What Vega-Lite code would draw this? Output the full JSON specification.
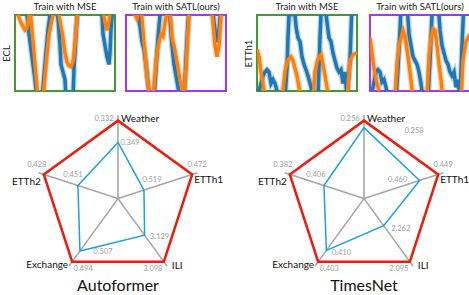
{
  "$schema": "https://vega.github.io/schema/vega-lite/v6.json",
  "padding": 0,
  "background": "white",
  "config": {"view": {"stroke": null}, "font": "Lato", "title": {"font": "Lato"}},
  "datasets": {
    "series": [
      {"ds":"ECL","method":"MSE","series":"truth","t":0,"v":120},{"ds":"ECL","method":"MSE","series":"truth","t":10,"v":115},{"ds":"ECL","method":"MSE","series":"truth","t":12,"v":100},{"ds":"ECL","method":"MSE","series":"truth","t":14,"v":75},{"ds":"ECL","method":"MSE","series":"truth","t":16,"v":55},{"ds":"ECL","method":"MSE","series":"truth","t":18,"v":35},{"ds":"ECL","method":"MSE","series":"truth","t":20,"v":15},{"ds":"ECL","method":"MSE","series":"truth","t":22,"v":-10},{"ds":"ECL","method":"MSE","series":"truth","t":27,"v":-10},{"ds":"ECL","method":"MSE","series":"truth","t":29,"v":20},{"ds":"ECL","method":"MSE","series":"truth","t":31,"v":50},{"ds":"ECL","method":"MSE","series":"truth","t":33,"v":80},{"ds":"ECL","method":"MSE","series":"truth","t":35,"v":100},{"ds":"ECL","method":"MSE","series":"truth","t":37,"v":112},{"ds":"ECL","method":"MSE","series":"truth","t":41,"v":112},{"ds":"ECL","method":"MSE","series":"truth","t":43,"v":95},{"ds":"ECL","method":"MSE","series":"truth","t":45,"v":60},{"ds":"ECL","method":"MSE","series":"truth","t":46,"v":35},{"ds":"ECL","method":"MSE","series":"truth","t":48,"v":25},{"ds":"ECL","method":"MSE","series":"truth","t":50,"v":15},{"ds":"ECL","method":"MSE","series":"truth","t":51,"v":-10},{"ds":"ECL","method":"MSE","series":"truth","t":58,"v":-10},{"ds":"ECL","method":"MSE","series":"truth","t":59,"v":30},{"ds":"ECL","method":"MSE","series":"truth","t":61,"v":75},{"ds":"ECL","method":"MSE","series":"truth","t":63,"v":115},{"ds":"ECL","method":"MSE","series":"truth","t":85,"v":118},{"ds":"ECL","method":"MSE","series":"truth","t":87,"v":100},{"ds":"ECL","method":"MSE","series":"truth","t":88,"v":75},{"ds":"ECL","method":"MSE","series":"truth","t":90,"v":60},{"ds":"ECL","method":"MSE","series":"truth","t":92,"v":45},{"ds":"ECL","method":"MSE","series":"truth","t":94,"v":35},{"ds":"ECL","method":"MSE","series":"truth","t":95,"v":50},{"ds":"ECL","method":"MSE","series":"truth","t":96,"v":80},{"ds":"ECL","method":"MSE","series":"truth","t":98,"v":115},{"ds":"ECL","method":"MSE","series":"truth","t":100,"v":120},
      {"ds":"ECL","method":"MSE","series":"pred","t":0,"v":115},{"ds":"ECL","method":"MSE","series":"pred","t":3,"v":100},{"ds":"ECL","method":"MSE","series":"pred","t":6,"v":90},{"ds":"ECL","method":"MSE","series":"pred","t":10,"v":80},{"ds":"ECL","method":"MSE","series":"pred","t":12,"v":82},{"ds":"ECL","method":"MSE","series":"pred","t":14,"v":100},{"ds":"ECL","method":"MSE","series":"pred","t":15,"v":108},{"ds":"ECL","method":"MSE","series":"pred","t":17,"v":80},{"ds":"ECL","method":"MSE","series":"pred","t":19,"v":50},{"ds":"ECL","method":"MSE","series":"pred","t":21,"v":20},{"ds":"ECL","method":"MSE","series":"pred","t":23,"v":-10},{"ds":"ECL","method":"MSE","series":"pred","t":28,"v":-10},{"ds":"ECL","method":"MSE","series":"pred","t":30,"v":20},{"ds":"ECL","method":"MSE","series":"pred","t":32,"v":50},{"ds":"ECL","method":"MSE","series":"pred","t":34,"v":75},{"ds":"ECL","method":"MSE","series":"pred","t":37,"v":95},{"ds":"ECL","method":"MSE","series":"pred","t":39,"v":105},{"ds":"ECL","method":"MSE","series":"pred","t":42,"v":110},{"ds":"ECL","method":"MSE","series":"pred","t":44,"v":100},{"ds":"ECL","method":"MSE","series":"pred","t":46,"v":85},{"ds":"ECL","method":"MSE","series":"pred","t":48,"v":70},{"ds":"ECL","method":"MSE","series":"pred","t":50,"v":50},{"ds":"ECL","method":"MSE","series":"pred","t":52,"v":38},{"ds":"ECL","method":"MSE","series":"pred","t":54,"v":33},{"ds":"ECL","method":"MSE","series":"pred","t":56,"v":32},{"ds":"ECL","method":"MSE","series":"pred","t":58,"v":38},{"ds":"ECL","method":"MSE","series":"pred","t":60,"v":60},{"ds":"ECL","method":"MSE","series":"pred","t":62,"v":95},{"ds":"ECL","method":"MSE","series":"pred","t":64,"v":115},{"ds":"ECL","method":"MSE","series":"pred","t":86,"v":118},{"ds":"ECL","method":"MSE","series":"pred","t":88,"v":105},{"ds":"ECL","method":"MSE","series":"pred","t":90,"v":90},{"ds":"ECL","method":"MSE","series":"pred","t":92,"v":80},{"ds":"ECL","method":"MSE","series":"pred","t":94,"v":92},{"ds":"ECL","method":"MSE","series":"pred","t":96,"v":110},{"ds":"ECL","method":"MSE","series":"pred","t":100,"v":120},
      {"ds":"ECL","method":"SATL","series":"truth","t":0,"v":120},{"ds":"ECL","method":"SATL","series":"truth","t":12,"v":115},{"ds":"ECL","method":"SATL","series":"truth","t":14,"v":85},{"ds":"ECL","method":"SATL","series":"truth","t":16,"v":65},{"ds":"ECL","method":"SATL","series":"truth","t":18,"v":55},{"ds":"ECL","method":"SATL","series":"truth","t":20,"v":35},{"ds":"ECL","method":"SATL","series":"truth","t":22,"v":10},{"ds":"ECL","method":"SATL","series":"truth","t":24,"v":-10},{"ds":"ECL","method":"SATL","series":"truth","t":28,"v":-10},{"ds":"ECL","method":"SATL","series":"truth","t":30,"v":30},{"ds":"ECL","method":"SATL","series":"truth","t":32,"v":70},{"ds":"ECL","method":"SATL","series":"truth","t":34,"v":100},{"ds":"ECL","method":"SATL","series":"truth","t":36,"v":115},{"ds":"ECL","method":"SATL","series":"truth","t":40,"v":115},{"ds":"ECL","method":"SATL","series":"truth","t":44,"v":95},{"ds":"ECL","method":"SATL","series":"truth","t":46,"v":60},{"ds":"ECL","method":"SATL","series":"truth","t":48,"v":35},{"ds":"ECL","method":"SATL","series":"truth","t":50,"v":20},{"ds":"ECL","method":"SATL","series":"truth","t":52,"v":5},{"ds":"ECL","method":"SATL","series":"truth","t":54,"v":-10},{"ds":"ECL","method":"SATL","series":"truth","t":58,"v":-10},{"ds":"ECL","method":"SATL","series":"truth","t":60,"v":40},{"ds":"ECL","method":"SATL","series":"truth","t":62,"v":90},{"ds":"ECL","method":"SATL","series":"truth","t":64,"v":118},{"ds":"ECL","method":"SATL","series":"truth","t":86,"v":118},{"ds":"ECL","method":"SATL","series":"truth","t":88,"v":90},{"ds":"ECL","method":"SATL","series":"truth","t":90,"v":72},{"ds":"ECL","method":"SATL","series":"truth","t":92,"v":65},{"ds":"ECL","method":"SATL","series":"truth","t":93,"v":80},{"ds":"ECL","method":"SATL","series":"truth","t":95,"v":110},{"ds":"ECL","method":"SATL","series":"truth","t":100,"v":120},
      {"ds":"ECL","method":"SATL","series":"pred","t":0,"v":120},{"ds":"ECL","method":"SATL","series":"pred","t":8,"v":110},{"ds":"ECL","method":"SATL","series":"pred","t":9,"v":100},{"ds":"ECL","method":"SATL","series":"pred","t":11,"v":95},{"ds":"ECL","method":"SATL","series":"pred","t":13,"v":105},{"ds":"ECL","method":"SATL","series":"pred","t":15,"v":110},{"ds":"ECL","method":"SATL","series":"pred","t":17,"v":80},{"ds":"ECL","method":"SATL","series":"pred","t":19,"v":50},{"ds":"ECL","method":"SATL","series":"pred","t":21,"v":20},{"ds":"ECL","method":"SATL","series":"pred","t":24,"v":-10},{"ds":"ECL","method":"SATL","series":"pred","t":27,"v":-10},{"ds":"ECL","method":"SATL","series":"pred","t":29,"v":20},{"ds":"ECL","method":"SATL","series":"pred","t":31,"v":50},{"ds":"ECL","method":"SATL","series":"pred","t":33,"v":65},{"ds":"ECL","method":"SATL","series":"pred","t":35,"v":75},{"ds":"ECL","method":"SATL","series":"pred","t":37,"v":72},{"ds":"ECL","method":"SATL","series":"pred","t":39,"v":90},{"ds":"ECL","method":"SATL","series":"pred","t":41,"v":105},{"ds":"ECL","method":"SATL","series":"pred","t":43,"v":110},{"ds":"ECL","method":"SATL","series":"pred","t":45,"v":90},{"ds":"ECL","method":"SATL","series":"pred","t":46,"v":70},{"ds":"ECL","method":"SATL","series":"pred","t":48,"v":60},{"ds":"ECL","method":"SATL","series":"pred","t":50,"v":45},{"ds":"ECL","method":"SATL","series":"pred","t":52,"v":30},{"ds":"ECL","method":"SATL","series":"pred","t":54,"v":15},{"ds":"ECL","method":"SATL","series":"pred","t":56,"v":5},{"ds":"ECL","method":"SATL","series":"pred","t":58,"v":-5},{"ds":"ECL","method":"SATL","series":"pred","t":60,"v":30},{"ds":"ECL","method":"SATL","series":"pred","t":62,"v":80},{"ds":"ECL","method":"SATL","series":"pred","t":64,"v":118},{"ds":"ECL","method":"SATL","series":"pred","t":85,"v":118},{"ds":"ECL","method":"SATL","series":"pred","t":87,"v":90},{"ds":"ECL","method":"SATL","series":"pred","t":89,"v":60},{"ds":"ECL","method":"SATL","series":"pred","t":91,"v":45},{"ds":"ECL","method":"SATL","series":"pred","t":93,"v":60},{"ds":"ECL","method":"SATL","series":"pred","t":95,"v":100},{"ds":"ECL","method":"SATL","series":"pred","t":97,"v":118},{"ds":"ECL","method":"SATL","series":"pred","t":100,"v":120},
      {"ds":"ETTh1","method":"MSE","series":"truth","t":0,"v":-10},{"ds":"ETTh1","method":"MSE","series":"truth","t":3,"v":5},{"ds":"ETTh1","method":"MSE","series":"truth","t":6,"v":20},{"ds":"ETTh1","method":"MSE","series":"truth","t":8,"v":25},{"ds":"ETTh1","method":"MSE","series":"truth","t":10,"v":28},{"ds":"ETTh1","method":"MSE","series":"truth","t":12,"v":25},{"ds":"ETTh1","method":"MSE","series":"truth","t":14,"v":10},{"ds":"ETTh1","method":"MSE","series":"truth","t":16,"v":15},{"ds":"ETTh1","method":"MSE","series":"truth","t":18,"v":10},{"ds":"ETTh1","method":"MSE","series":"truth","t":20,"v":0},{"ds":"ETTh1","method":"MSE","series":"truth","t":22,"v":-10},{"ds":"ETTh1","method":"MSE","series":"truth","t":28,"v":-10},{"ds":"ETTh1","method":"MSE","series":"truth","t":30,"v":30},{"ds":"ETTh1","method":"MSE","series":"truth","t":31,"v":70},{"ds":"ETTh1","method":"MSE","series":"truth","t":32,"v":100},{"ds":"ETTh1","method":"MSE","series":"truth","t":33,"v":115},{"ds":"ETTh1","method":"MSE","series":"truth","t":35,"v":105},{"ds":"ETTh1","method":"MSE","series":"truth","t":37,"v":115},{"ds":"ETTh1","method":"MSE","series":"truth","t":39,"v":85},{"ds":"ETTh1","method":"MSE","series":"truth","t":41,"v":70},{"ds":"ETTh1","method":"MSE","series":"truth","t":43,"v":65},{"ds":"ETTh1","method":"MSE","series":"truth","t":45,"v":45},{"ds":"ETTh1","method":"MSE","series":"truth","t":47,"v":35},{"ds":"ETTh1","method":"MSE","series":"truth","t":49,"v":28},{"ds":"ETTh1","method":"MSE","series":"truth","t":51,"v":20},{"ds":"ETTh1","method":"MSE","series":"truth","t":53,"v":10},{"ds":"ETTh1","method":"MSE","series":"truth","t":55,"v":0},{"ds":"ETTh1","method":"MSE","series":"truth","t":57,"v":-10},{"ds":"ETTh1","method":"MSE","series":"truth","t":61,"v":-10},{"ds":"ETTh1","method":"MSE","series":"truth","t":62,"v":30},{"ds":"ETTh1","method":"MSE","series":"truth","t":63,"v":70},{"ds":"ETTh1","method":"MSE","series":"truth","t":64,"v":100},{"ds":"ETTh1","method":"MSE","series":"truth","t":66,"v":115},{"ds":"ETTh1","method":"MSE","series":"truth","t":68,"v":115},{"ds":"ETTh1","method":"MSE","series":"truth","t":70,"v":90},{"ds":"ETTh1","method":"MSE","series":"truth","t":72,"v":70},{"ds":"ETTh1","method":"MSE","series":"truth","t":74,"v":65},{"ds":"ETTh1","method":"MSE","series":"truth","t":76,"v":50},{"ds":"ETTh1","method":"MSE","series":"truth","t":78,"v":40},{"ds":"ETTh1","method":"MSE","series":"truth","t":80,"v":30},{"ds":"ETTh1","method":"MSE","series":"truth","t":82,"v":25},{"ds":"ETTh1","method":"MSE","series":"truth","t":84,"v":28},{"ds":"ETTh1","method":"MSE","series":"truth","t":86,"v":10},{"ds":"ETTh1","method":"MSE","series":"truth","t":88,"v":25},{"ds":"ETTh1","method":"MSE","series":"truth","t":90,"v":-10},{"ds":"ETTh1","method":"MSE","series":"truth","t":93,"v":40},{"ds":"ETTh1","method":"MSE","series":"truth","t":95,"v":115},{"ds":"ETTh1","method":"MSE","series":"truth","t":100,"v":118},
      {"ds":"ETTh1","method":"MSE","series":"pred","t":0,"v":55},{"ds":"ETTh1","method":"MSE","series":"pred","t":2,"v":45},{"ds":"ETTh1","method":"MSE","series":"pred","t":4,"v":25},{"ds":"ETTh1","method":"MSE","series":"pred","t":6,"v":10},{"ds":"ETTh1","method":"MSE","series":"pred","t":8,"v":-10},{"ds":"ETTh1","method":"MSE","series":"pred","t":25,"v":-10},{"ds":"ETTh1","method":"MSE","series":"pred","t":28,"v":25},{"ds":"ETTh1","method":"MSE","series":"pred","t":30,"v":38},{"ds":"ETTh1","method":"MSE","series":"pred","t":32,"v":43},{"ds":"ETTh1","method":"MSE","series":"pred","t":34,"v":45},{"ds":"ETTh1","method":"MSE","series":"pred","t":36,"v":40},{"ds":"ETTh1","method":"MSE","series":"pred","t":38,"v":30},{"ds":"ETTh1","method":"MSE","series":"pred","t":40,"v":20},{"ds":"ETTh1","method":"MSE","series":"pred","t":42,"v":5},{"ds":"ETTh1","method":"MSE","series":"pred","t":44,"v":-10},{"ds":"ETTh1","method":"MSE","series":"pred","t":56,"v":-10},{"ds":"ETTh1","method":"MSE","series":"pred","t":58,"v":25},{"ds":"ETTh1","method":"MSE","series":"pred","t":60,"v":38},{"ds":"ETTh1","method":"MSE","series":"pred","t":62,"v":45},{"ds":"ETTh1","method":"MSE","series":"pred","t":64,"v":48},{"ds":"ETTh1","method":"MSE","series":"pred","t":66,"v":35},{"ds":"ETTh1","method":"MSE","series":"pred","t":68,"v":20},{"ds":"ETTh1","method":"MSE","series":"pred","t":70,"v":5},{"ds":"ETTh1","method":"MSE","series":"pred","t":72,"v":-10},{"ds":"ETTh1","method":"MSE","series":"pred","t":90,"v":-10},{"ds":"ETTh1","method":"MSE","series":"pred","t":93,"v":40},{"ds":"ETTh1","method":"MSE","series":"pred","t":96,"v":48},{"ds":"ETTh1","method":"MSE","series":"pred","t":100,"v":50},
      {"ds":"ETTh1","method":"SATL","series":"truth","t":0,"v":-10},{"ds":"ETTh1","method":"SATL","series":"truth","t":3,"v":5},{"ds":"ETTh1","method":"SATL","series":"truth","t":6,"v":25},{"ds":"ETTh1","method":"SATL","series":"truth","t":8,"v":28},{"ds":"ETTh1","method":"SATL","series":"truth","t":10,"v":25},{"ds":"ETTh1","method":"SATL","series":"truth","t":12,"v":12},{"ds":"ETTh1","method":"SATL","series":"truth","t":14,"v":15},{"ds":"ETTh1","method":"SATL","series":"truth","t":16,"v":5},{"ds":"ETTh1","method":"SATL","series":"truth","t":18,"v":-10},{"ds":"ETTh1","method":"SATL","series":"truth","t":26,"v":-10},{"ds":"ETTh1","method":"SATL","series":"truth","t":28,"v":30},{"ds":"ETTh1","method":"SATL","series":"truth","t":30,"v":80},{"ds":"ETTh1","method":"SATL","series":"truth","t":31,"v":110},{"ds":"ETTh1","method":"SATL","series":"truth","t":33,"v":118},{"ds":"ETTh1","method":"SATL","series":"truth","t":35,"v":100},{"ds":"ETTh1","method":"SATL","series":"truth","t":37,"v":115},{"ds":"ETTh1","method":"SATL","series":"truth","t":39,"v":75},{"ds":"ETTh1","method":"SATL","series":"truth","t":41,"v":60},{"ds":"ETTh1","method":"SATL","series":"truth","t":43,"v":45},{"ds":"ETTh1","method":"SATL","series":"truth","t":45,"v":40},{"ds":"ETTh1","method":"SATL","series":"truth","t":47,"v":35},{"ds":"ETTh1","method":"SATL","series":"truth","t":49,"v":25},{"ds":"ETTh1","method":"SATL","series":"truth","t":51,"v":10},{"ds":"ETTh1","method":"SATL","series":"truth","t":53,"v":-10},{"ds":"ETTh1","method":"SATL","series":"truth","t":58,"v":-10},{"ds":"ETTh1","method":"SATL","series":"truth","t":60,"v":40},{"ds":"ETTh1","method":"SATL","series":"truth","t":62,"v":100},{"ds":"ETTh1","method":"SATL","series":"truth","t":64,"v":118},{"ds":"ETTh1","method":"SATL","series":"truth","t":66,"v":110},{"ds":"ETTh1","method":"SATL","series":"truth","t":68,"v":118},{"ds":"ETTh1","method":"SATL","series":"truth","t":70,"v":80},{"ds":"ETTh1","method":"SATL","series":"truth","t":72,"v":60},{"ds":"ETTh1","method":"SATL","series":"truth","t":74,"v":50},{"ds":"ETTh1","method":"SATL","series":"truth","t":76,"v":40},{"ds":"ETTh1","method":"SATL","series":"truth","t":78,"v":35},{"ds":"ETTh1","method":"SATL","series":"truth","t":80,"v":25},{"ds":"ETTh1","method":"SATL","series":"truth","t":82,"v":20},{"ds":"ETTh1","method":"SATL","series":"truth","t":84,"v":25},{"ds":"ETTh1","method":"SATL","series":"truth","t":86,"v":5},{"ds":"ETTh1","method":"SATL","series":"truth","t":88,"v":15},{"ds":"ETTh1","method":"SATL","series":"truth","t":90,"v":-10},{"ds":"ETTh1","method":"SATL","series":"truth","t":92,"v":60},{"ds":"ETTh1","method":"SATL","series":"truth","t":94,"v":118},{"ds":"ETTh1","method":"SATL","series":"truth","t":100,"v":118},
      {"ds":"ETTh1","method":"SATL","series":"pred","t":0,"v":70},{"ds":"ETTh1","method":"SATL","series":"pred","t":2,"v":50},{"ds":"ETTh1","method":"SATL","series":"pred","t":4,"v":30},{"ds":"ETTh1","method":"SATL","series":"pred","t":6,"v":15},{"ds":"ETTh1","method":"SATL","series":"pred","t":8,"v":5},{"ds":"ETTh1","method":"SATL","series":"pred","t":10,"v":-10},{"ds":"ETTh1","method":"SATL","series":"pred","t":25,"v":-10},{"ds":"ETTh1","method":"SATL","series":"pred","t":27,"v":35},{"ds":"ETTh1","method":"SATL","series":"pred","t":29,"v":60},{"ds":"ETTh1","method":"SATL","series":"pred","t":31,"v":70},{"ds":"ETTh1","method":"SATL","series":"pred","t":33,"v":80},{"ds":"ETTh1","method":"SATL","series":"pred","t":35,"v":72},{"ds":"ETTh1","method":"SATL","series":"pred","t":37,"v":55},{"ds":"ETTh1","method":"SATL","series":"pred","t":39,"v":35},{"ds":"ETTh1","method":"SATL","series":"pred","t":41,"v":15},{"ds":"ETTh1","method":"SATL","series":"pred","t":43,"v":-10},{"ds":"ETTh1","method":"SATL","series":"pred","t":57,"v":-10},{"ds":"ETTh1","method":"SATL","series":"pred","t":59,"v":45},{"ds":"ETTh1","method":"SATL","series":"pred","t":61,"v":70},{"ds":"ETTh1","method":"SATL","series":"pred","t":63,"v":82},{"ds":"ETTh1","method":"SATL","series":"pred","t":65,"v":80},{"ds":"ETTh1","method":"SATL","series":"pred","t":67,"v":60},{"ds":"ETTh1","method":"SATL","series":"pred","t":69,"v":35},{"ds":"ETTh1","method":"SATL","series":"pred","t":71,"v":15},{"ds":"ETTh1","method":"SATL","series":"pred","t":73,"v":-10},{"ds":"ETTh1","method":"SATL","series":"pred","t":91,"v":-10},{"ds":"ETTh1","method":"SATL","series":"pred","t":93,"v":40},{"ds":"ETTh1","method":"SATL","series":"pred","t":96,"v":65},{"ds":"ETTh1","method":"SATL","series":"pred","t":100,"v":75}
    ],
    "radar": [
      {"model":"Autoformer","axis":"Weather","k":0,"series":"SATL","r":1,"value":0.332},
      {"model":"Autoformer","axis":"ETTh1","k":1,"series":"SATL","r":1,"value":0.472},
      {"model":"Autoformer","axis":"ILI","k":2,"series":"SATL","r":1,"value":3.098},
      {"model":"Autoformer","axis":"Exchange","k":3,"series":"SATL","r":1,"value":0.494},
      {"model":"Autoformer","axis":"ETTh2","k":4,"series":"SATL","r":1,"value":0.428},
      {"model":"Autoformer","axis":"Weather","k":0,"series":"MSE","r":0.72,"value":0.349},
      {"model":"Autoformer","axis":"ETTh1","k":1,"series":"MSE","r":0.35,"value":0.519},
      {"model":"Autoformer","axis":"ILI","k":2,"series":"MSE","r":0.58,"value":3.129},
      {"model":"Autoformer","axis":"Exchange","k":3,"series":"MSE","r":0.83,"value":0.507},
      {"model":"Autoformer","axis":"ETTh2","k":4,"series":"MSE","r":0.54,"value":0.451},
      {"model":"TimesNet","axis":"Weather","k":0,"series":"SATL","r":1,"value":0.256},
      {"model":"TimesNet","axis":"ETTh1","k":1,"series":"SATL","r":1,"value":0.449},
      {"model":"TimesNet","axis":"ILI","k":2,"series":"SATL","r":1,"value":2.095},
      {"model":"TimesNet","axis":"Exchange","k":3,"series":"SATL","r":1,"value":0.403},
      {"model":"TimesNet","axis":"ETTh2","k":4,"series":"SATL","r":1,"value":0.382},
      {"model":"TimesNet","axis":"Weather","k":0,"series":"MSE","r":0.91,"value":0.258},
      {"model":"TimesNet","axis":"ETTh1","k":1,"series":"MSE","r":0.75,"value":0.460},
      {"model":"TimesNet","axis":"ILI","k":2,"series":"MSE","r":0.43,"value":2.262},
      {"model":"TimesNet","axis":"Exchange","k":3,"series":"MSE","r":0.82,"value":0.410},
      {"model":"TimesNet","axis":"ETTh2","k":4,"series":"MSE","r":0.54,"value":0.406}
    ]
  },
  "spacing": 6,
  "vconcat": [
    {
      "spacing": 15,
      "hconcat": [
        {
          "spacing": 9,
          "hconcat": [
            {
              "width": 100, "height": 76,
              "title": {"text": "Train with MSE", "fontSize": 9.5, "fontWeight": "normal", "color": "#222", "offset": 4},
              "view": {"stroke": "#3f9c35", "strokeWidth": 2},
              "data": {"name": "series"},
              "transform": [{"filter": "datum.ds == 'ECL' && datum.method == 'MSE'"}],
              "encoding": {
                "x": {"field": "t", "type": "quantitative", "scale": {"domain": [0, 100], "nice": false}, "axis": null},
                "y": {"field": "v", "type": "quantitative", "scale": {"domain": [0, 100], "nice": false}, "axis": {"title": "ECL", "labels": false, "ticks": false, "domain": false, "grid": false, "titleFontSize": 9.5, "titleFontWeight": "normal", "titleColor": "#222", "titlePadding": 4}},
                "color": {"field": "series", "type": "nominal", "scale": {"domain": ["truth", "pred"], "range": ["#1f77b4", "#ff7f0e"]}, "legend": null}
              },
              "layer": [
                {"mark": {"type": "line", "clip": true, "strokeWidth": 6, "opacity": 0.3}},
                {"mark": {"type": "line", "clip": true, "strokeWidth": 3.5}}
              ]
            },
            {
              "width": 100, "height": 76,
              "title": {"text": "Train with SATL(ours)", "fontSize": 9.5, "fontWeight": "normal", "color": "#222", "offset": 4},
              "view": {"stroke": "#a834f2", "strokeWidth": 2},
              "data": {"name": "series"},
              "transform": [{"filter": "datum.ds == 'ECL' && datum.method == 'SATL'"}],
              "encoding": {
                "x": {"field": "t", "type": "quantitative", "scale": {"domain": [0, 100], "nice": false}, "axis": null},
                "y": {"field": "v", "type": "quantitative", "scale": {"domain": [0, 100], "nice": false}, "axis": null},
                "color": {"field": "series", "type": "nominal", "scale": {"domain": ["truth", "pred"], "range": ["#1f77b4", "#ff7f0e"]}, "legend": null}
              },
              "layer": [
                {"mark": {"type": "line", "clip": true, "strokeWidth": 6, "opacity": 0.3}},
                {"mark": {"type": "line", "clip": true, "strokeWidth": 3.5}}
              ]
            }
          ]
        },
        {
          "spacing": 11,
          "hconcat": [
            {
              "width": 100, "height": 76,
              "title": {"text": "Train with MSE", "fontSize": 9.5, "fontWeight": "normal", "color": "#222", "offset": 4},
              "view": {"stroke": "#3f9c35", "strokeWidth": 2},
              "data": {"name": "series"},
              "transform": [{"filter": "datum.ds == 'ETTh1' && datum.method == 'MSE'"}],
              "encoding": {
                "x": {"field": "t", "type": "quantitative", "scale": {"domain": [0, 100], "nice": false}, "axis": null},
                "y": {"field": "v", "type": "quantitative", "scale": {"domain": [0, 100], "nice": false}, "axis": {"title": "ETTh1", "labels": false, "ticks": false, "domain": false, "grid": false, "titleFontSize": 9.5, "titleFontWeight": "normal", "titleColor": "#222", "titlePadding": 4}},
                "color": {"field": "series", "type": "nominal", "scale": {"domain": ["truth", "pred"], "range": ["#1f77b4", "#ff7f0e"]}, "legend": null}
              },
              "layer": [
                {"mark": {"type": "line", "clip": true, "strokeWidth": 6, "opacity": 0.3}},
                {"mark": {"type": "line", "clip": true, "strokeWidth": 3.5}}
              ]
            },
            {
              "width": 100, "height": 76,
              "title": {"text": "Train with SATL(ours)", "fontSize": 9.5, "fontWeight": "normal", "color": "#222", "offset": 4},
              "view": {"stroke": "#a834f2", "strokeWidth": 2},
              "data": {"name": "series"},
              "transform": [{"filter": "datum.ds == 'ETTh1' && datum.method == 'SATL'"}],
              "encoding": {
                "x": {"field": "t", "type": "quantitative", "scale": {"domain": [0, 100], "nice": false}, "axis": null},
                "y": {"field": "v", "type": "quantitative", "scale": {"domain": [0, 100], "nice": false}, "axis": null},
                "color": {"field": "series", "type": "nominal", "scale": {"domain": ["truth", "pred"], "range": ["#1f77b4", "#ff7f0e"]}, "legend": null}
              },
              "layer": [
                {"mark": {"type": "line", "clip": true, "strokeWidth": 6, "opacity": 0.3}},
                {"mark": {"type": "line", "clip": true, "strokeWidth": 3.5}}
              ]
            }
          ]
        }
      ]
    },
    {
      "data": {"name": "radar"},
      "transform": [
        {"calculate": "datum.k * 2 * PI / 5", "as": "ang"},
        {"calculate": "datum.r * sin(datum.ang)", "as": "px"},
        {"calculate": "datum.r * cos(datum.ang)", "as": "py"},
        {"calculate": "1.07 * sin(datum.ang)", "as": "sx"},
        {"calculate": "1.07 * cos(datum.ang)", "as": "sy"}
      ],
      "facet": {"column": {"field": "model", "type": "nominal", "title": null, "header": {"labelOrient": "bottom", "labelFontSize": 16, "labelFont": "Lato", "labelColor": "#111", "labelPadding": 5, "labelBaseline": "top"}}},
      "spacing": {"column": 33},
      "spec": {
        "width": 206, "height": 175,
        "encoding": {
          "x": {"field": "px", "type": "quantitative", "scale": {"domain": [-1.3205, 1.3205], "nice": false, "zero": false}, "axis": null},
          "y": {"field": "py", "type": "quantitative", "scale": {"domain": [-0.954, 1.29], "nice": false, "zero": false}, "axis": null}
        },
        "layer": [
          {"transform": [{"filter": "datum.series == 'SATL'"}], "mark": {"type": "rule", "color": "#a6a6a6", "strokeWidth": 1.6},
           "encoding": {"x": {"field": "sx", "type": "quantitative", "axis": null}, "y": {"field": "sy", "type": "quantitative", "axis": null}, "x2": {"datum": 0}, "y2": {"datum": 0}}},
          {"transform": [{"filter": "datum.series == 'SATL'"}], "mark": {"type": "line", "interpolate": "linear-closed", "color": "#ee1c0e", "strokeWidth": 2.5},
           "encoding": {"order": {"field": "k", "type": "quantitative"}}},
          {"transform": [{"filter": "datum.series == 'MSE'"}], "mark": {"type": "line", "interpolate": "linear-closed", "color": "#1ba1e2", "strokeWidth": 1.5},
           "encoding": {"order": {"field": "k", "type": "quantitative"}}},
          {"transform": [{"filter": "datum.series == 'SATL' && datum.k == 0"}], "mark": {"type": "text", "align": "left", "baseline": "middle", "dx": 3, "dy": -2, "fontSize": 10, "color": "#111"},
           "encoding": {"text": {"field": "axis", "type": "nominal"}}},
          {"transform": [{"filter": "datum.series == 'SATL' && datum.k == 1"}], "mark": {"type": "text", "align": "left", "baseline": "middle", "dx": 2, "dy": 5, "fontSize": 10, "color": "#111"},
           "encoding": {"text": {"field": "axis", "type": "nominal"}}},
          {"transform": [{"filter": "datum.series == 'SATL' && datum.k == 2"}], "mark": {"type": "text", "align": "left", "baseline": "middle", "dx": 8, "dy": 4, "fontSize": 10, "color": "#111"},
           "encoding": {"text": {"field": "axis", "type": "nominal"}}},
          {"transform": [{"filter": "datum.series == 'SATL' && datum.k == 3"}], "mark": {"type": "text", "align": "right", "baseline": "middle", "dx": -4, "dy": 3, "fontSize": 10, "color": "#111"},
           "encoding": {"text": {"field": "axis", "type": "nominal"}}},
          {"transform": [{"filter": "datum.series == 'SATL' && datum.k == 4"}], "mark": {"type": "text", "align": "right", "baseline": "middle", "dx": -3, "dy": 7, "fontSize": 10, "color": "#111"},
           "encoding": {"text": {"field": "axis", "type": "nominal"}}},
          {"transform": [{"filter": "datum.series == 'SATL' && datum.k == 0"}], "mark": {"type": "text", "baseline": "middle", "dx": -14, "dy": -2, "fontSize": 7.5, "color": "#a0a0a0"},
           "encoding": {"text": {"field": "value", "type": "quantitative", "format": ".3f"}}},
          {"transform": [{"filter": "datum.series == 'SATL' && datum.k == 1"}], "mark": {"type": "text", "baseline": "middle", "dx": 5, "dy": -10, "fontSize": 7.5, "color": "#a0a0a0"},
           "encoding": {"text": {"field": "value", "type": "quantitative", "format": ".3f"}}},
          {"transform": [{"filter": "datum.series == 'SATL' && datum.k == 2"}], "mark": {"type": "text", "baseline": "middle", "dx": -11, "dy": 7, "fontSize": 7.5, "color": "#a0a0a0"},
           "encoding": {"text": {"field": "value", "type": "quantitative", "format": ".3f"}}},
          {"transform": [{"filter": "datum.series == 'SATL' && datum.k == 3"}], "mark": {"type": "text", "baseline": "middle", "dx": 11, "dy": 7, "fontSize": 7.5, "color": "#a0a0a0"},
           "encoding": {"text": {"field": "value", "type": "quantitative", "format": ".3f"}}},
          {"transform": [{"filter": "datum.series == 'SATL' && datum.k == 4"}], "mark": {"type": "text", "baseline": "middle", "dx": -7, "dy": -10, "fontSize": 7.5, "color": "#a0a0a0"},
           "encoding": {"text": {"field": "value", "type": "quantitative", "format": ".3f"}}},
          {"transform": [{"filter": "datum.series == 'MSE' && datum.model == 'Autoformer' && datum.k == 0"}], "mark": {"type": "text", "baseline": "middle", "dx": 12, "dy": 1, "fontSize": 7.5, "color": "#a0a0a0"},
           "encoding": {"text": {"field": "value", "type": "quantitative", "format": ".3f"}}},
          {"transform": [{"filter": "datum.series == 'MSE' && datum.model == 'Autoformer' && datum.k == 1"}], "mark": {"type": "text", "baseline": "middle", "dx": 8, "dy": -10, "fontSize": 7.5, "color": "#a0a0a0"},
           "encoding": {"text": {"field": "value", "type": "quantitative", "format": ".3f"}}},
          {"transform": [{"filter": "datum.series == 'MSE' && datum.model == 'Autoformer' && datum.k == 2"}], "mark": {"type": "text", "baseline": "middle", "dx": 15, "dy": 2, "fontSize": 7.5, "color": "#a0a0a0"},
           "encoding": {"text": {"field": "value", "type": "quantitative", "format": ".3f"}}},
          {"transform": [{"filter": "datum.series == 'MSE' && datum.model == 'Autoformer' && datum.k == 3"}], "mark": {"type": "text", "baseline": "middle", "dx": 23, "dy": 1, "fontSize": 7.5, "color": "#a0a0a0"},
           "encoding": {"text": {"field": "value", "type": "quantitative", "format": ".3f"}}},
          {"transform": [{"filter": "datum.series == 'MSE' && datum.model == 'Autoformer' && datum.k == 4"}], "mark": {"type": "text", "baseline": "middle", "dx": -5, "dy": -11, "fontSize": 7.5, "color": "#a0a0a0"},
           "encoding": {"text": {"field": "value", "type": "quantitative", "format": ".3f"}}},
          {"transform": [{"filter": "datum.series == 'MSE' && datum.model == 'TimesNet' && datum.k == 0"}], "mark": {"type": "text", "baseline": "middle", "dx": 50, "dy": 3, "fontSize": 7.5, "color": "#a0a0a0"},
           "encoding": {"text": {"field": "value", "type": "quantitative", "format": ".3f"}}},
          {"transform": [{"filter": "datum.series == 'MSE' && datum.model == 'TimesNet' && datum.k == 1"}], "mark": {"type": "text", "baseline": "middle", "dx": -22, "dy": -1, "fontSize": 7.5, "color": "#a0a0a0"},
           "encoding": {"text": {"field": "value", "type": "quantitative", "format": ".3f"}}},
          {"transform": [{"filter": "datum.series == 'MSE' && datum.model == 'TimesNet' && datum.k == 2"}], "mark": {"type": "text", "baseline": "middle", "dx": 17, "dy": 3, "fontSize": 7.5, "color": "#a0a0a0"},
           "encoding": {"text": {"field": "value", "type": "quantitative", "format": ".3f"}}},
          {"transform": [{"filter": "datum.series == 'MSE' && datum.model == 'TimesNet' && datum.k == 3"}], "mark": {"type": "text", "baseline": "middle", "dx": 15, "dy": 3, "fontSize": 7.5, "color": "#a0a0a0"},
           "encoding": {"text": {"field": "value", "type": "quantitative", "format": ".3f"}}},
          {"transform": [{"filter": "datum.series == 'MSE' && datum.model == 'TimesNet' && datum.k == 4"}], "mark": {"type": "text", "baseline": "middle", "dx": -8, "dy": -11, "fontSize": 7.5, "color": "#a0a0a0"},
           "encoding": {"text": {"field": "value", "type": "quantitative", "format": ".3f"}}}
        ]
      }
    }
  ]
}
